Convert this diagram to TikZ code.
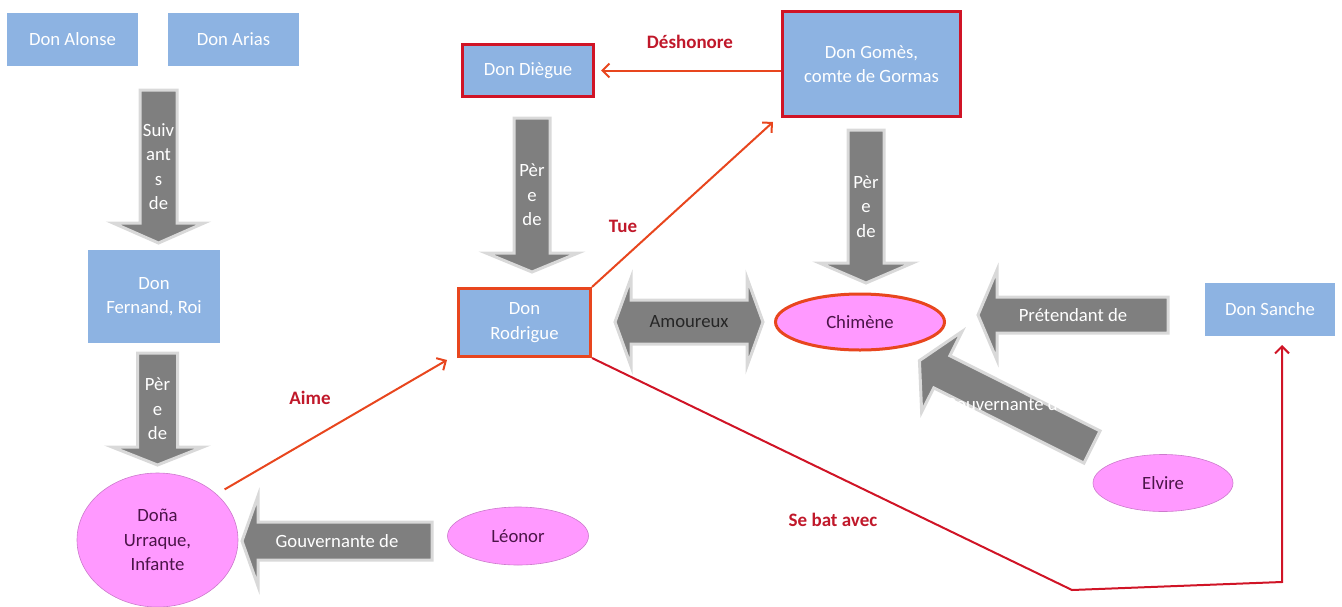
\documentclass[tikz,border=0pt]{standalone}
\usepackage{fontspec}
\setmainfont{Carlito}
\usetikzlibrary{shapes.geometric,arrows.meta}
\definecolor{bleu}{HTML}{8DB3E2}
\definecolor{rose}{HTML}{FF99FF}
\definecolor{prune}{HTML}{4B1448}
\definecolor{rouge}{HTML}{E8461E}
\definecolor{cramoisi}{HTML}{D01426}
\definecolor{etiquette}{HTML}{C0182A}
\definecolor{gris}{HTML}{7F7F7F}
\definecolor{grisclair}{HTML}{D9D9D9}

\begin{document}
\begin{tikzpicture}[x=1pt,y=-1pt,font=\fontsize{18.7}{24.5}\selectfont,
	perso/.style={rectangle, fill=bleu, text=white, inner sep=0, align=center},
	heros/.style={perso, draw=cramoisi, line width=3pt},
	dame/.style={ellipse, fill=rose, draw=rose!80!black, line width=0.6pt, text=prune, inner sep=0, align=center},
	fleche/.style={fill=gris, draw=grisclair, line width=3pt, line join=miter},
	bloctxt/.style={text=white, inner sep=0, align=center},
	lien/.style={rouge, line width=2pt, -{Straight Barb[length=7pt,width=14pt]}},
	etiq/.style={text=etiquette, font=\fontsize{19}{23}\selectfont\bfseries}]

		\useasboundingbox (0,0) rectangle (1342,606);
		%personnages
		\node[perso,minimum width=131pt,minimum height=53pt] at (72.5,39.5) (alonse) {Don Alonse};
		\node[perso,minimum width=131pt,minimum height=53pt] at (233.5,39.5) (arias) {Don Arias};
		\node[perso,minimum width=132pt,minimum height=93pt] at (154,296.5) (fernand) {Don\\Fernand, Roi};
		\node[heros,minimum width=131pt,minimum height=52pt] at (528,70.5) (diegue) {Don Diègue};
		\node[heros,minimum width=178pt,minimum height=105pt] at (871.5,64) (gomes) {Don Gomès,\\comte de Gormas};
		\node[heros,draw=rouge,minimum width=132pt,minimum height=68pt] at (524.5,322.5) (rodrigue) {Don\\Rodrigue};
		\node[perso,minimum width=130pt,minimum height=53pt] at (1270,309.5) (sanche) {Don Sanche};
		\node[dame,minimum width=161pt,minimum height=134pt] at (157.5,540) (urraque) {Doña\\Urraque,\\Infante};
		\node[dame,minimum width=141pt,minimum height=58pt] at (518,536) (leonor) {Léonor};
		\node[dame,draw=rouge,line width=3pt,minimum width=169pt,minimum height=56pt] at (860,322) (chimene) {Chimène};
		\node[dame,minimum width=140pt,minimum height=57pt] at (1163,483) (elvire) {Elvire};

		%liens de parente
		\foreach \x/\y/\a/\l/\w/\h/\p/\t [count=\i] in {
			158.5/90/-90/153/18.5/45.5/20/{Suiv\\ant\\s\\de},
			157.5/353/-90/112/20/45.5/18/{Pèr\\e\\de},
			532/118/-90/154/18/46/19/{Pèr\\e\\de},
			866/130/-90/153/18/46.5/20/{Pèr\\e\\de},
			432/541/180/190/19/45/16/{Gouvernante de},
			1168/315/180/190/18/45/19/{Prétendant de},
			1092/447/153.4/193/18/45/25/{Gouvernante de}} {
			\begin{scope}[shift={(\x,\y)},rotate=\a]
				\draw[fleche] (0,-\w) -- (\l-\p,-\w) -- (\l-\p,-\h) -- (\l,0) -- (\l-\p,\h) -- (\l-\p,\w) -- (0,\w) -- cycle;
				\node[bloctxt] (txt\i) at (\l/2,0) {\t};
			\end{scope}
		}
		\begin{scope}[shift={(689,322)}]
			\draw[fleche] (-74,0) -- (-58,-44) -- (-58,-22) -- (58,-22) -- (58,-44) -- (74,0) -- (58,44) -- (58,22) -- (-58,22) -- (-58,44) -- cycle;
			\node[bloctxt,text=black!85] (amour) at (0,0) {Amoureux};
		\end{scope}

		%actions
		\draw[lien] (gomes.west |- diegue.east) -- ([xshift=6pt]diegue.east);
		\draw[lien] (rodrigue.north east) -- ([shift={(-8pt,-4pt)}]gomes.south west);
		\draw[lien] ([shift={(10pt,3pt)}]urraque.north east) -- ([shift={(-10pt,-2pt)}]rodrigue.south west);
		\coordinate (coude1) at (1072,590);
		\coordinate (coude2) at (1282,582);
		\coordinate (pied) at (1282,345);
		\draw[lien,cramoisi] (rodrigue.south east) -- (coude1) -- (coude2) -- (pied);
		\node[etiq] (deshonore) at (690,42) {Déshonore};
		\node[etiq] (tue) at (623,226) {Tue};
		\node[etiq] (aime) at (310,398) {Aime};
		\node[etiq] (sebat) at (833,520) {Se bat avec};
\end{tikzpicture}
\end{document}
